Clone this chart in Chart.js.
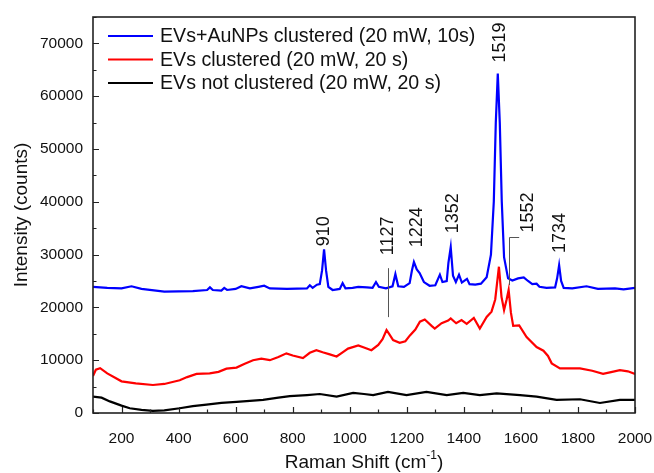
<!DOCTYPE html>
<html>
<head>
<meta charset="utf-8">
<script src="https://cdn.jsdelivr.net/npm/chart.js@4/dist/chart.umd.min.js"></script>
<style>
html,body{margin:0;padding:0;background:#fff;}
#wrap{width:654px;height:473px;}
</style>
</head>
<body>
<div id="wrap"><canvas id="c" width="654" height="473"></canvas></div>
<script>
// ---- data ----
const seriesLabels = ['EVs+AuNPs clustered (20 mW, 10s)', 'EVs clustered (20 mW, 20 s)', 'EVs not clustered (20 mW, 20 s)'];

const blueX = [100,150,200,235,270,350,450,500,510,520,550,560,570,600,620,650,680,700,720,780,850,860,870,885,895,903,910,917,925,940,965,975,985,1010,1030,1060,1080,1092,1102,1127,1150,1160,1170,1190,1210,1218,1225,1235,1245,1260,1280,1300,1316,1325,1340,1346,1354,1362,1372,1383,1393,1411,1420,1440,1460,1480,1495,1505,1512,1519,1526,1533,1541,1555,1570,1590,1610,1625,1640,1655,1665,1690,1720,1727,1734,1741,1750,1780,1830,1870,1930,1960,2000];
const blueY = [23900,23700,23600,24000,23500,23000,23100,23300,23800,23300,23200,23700,23300,23500,24000,23600,23900,24100,23600,23500,23600,24200,23700,24300,24400,27000,31000,27000,23900,23300,23500,24600,23600,23700,23900,23800,23700,24800,23900,23600,24000,26300,24000,23900,24600,27000,28600,27200,26500,24800,24100,24200,26200,24800,25000,28500,31400,26000,24800,26200,24700,25400,24400,24300,24500,25700,30000,40000,55000,64300,55000,40000,29500,25500,25100,25500,25700,25000,24400,24500,23900,23700,23800,25500,28000,25000,23700,23600,24000,23500,23600,23400,23700];

const redX = [100,110,125,150,200,250,310,350,404,430,463,509,540,568,603,630,661,690,720,750,778,800,836,860,883,905,930,954,975,994,1030,1050,1076,1100,1115,1129,1138,1152,1175,1195,1211,1230,1246,1263,1287,1298,1322,1345,1354,1373,1392,1410,1435,1456,1480,1497,1510,1523,1532,1541,1550,1557,1565,1573,1594,1620,1655,1679,1695,1708,1737,1807,1850,1888,1920,1947,1975,2000];
const redY = [7000,8200,8500,7500,6000,5600,5300,5500,6200,6800,7400,7500,7800,8400,8600,9300,10000,10300,10000,10600,11300,10900,10400,11400,11900,11500,11100,10700,11500,12200,12800,12400,11900,12900,14000,15700,15000,13800,13300,13600,14700,15800,17300,17700,16500,16000,17000,17500,17900,17000,17600,16900,18000,16000,18200,19200,21500,27700,22000,19500,21500,23300,19000,16500,16600,14400,12500,11800,10800,9400,8450,8450,8000,7400,7800,8100,7900,7400];

const blackX = [100,130,159,200,229,270,310,350,404,450,498,550,603,650,696,750,790,850,895,954,1012,1050,1082,1134,1199,1269,1340,1398,1456,1515,1597,1655,1725,1807,1877,1947,2000];
const blackY = [3100,2900,2200,1400,900,600,400,500,900,1300,1600,1900,2100,2300,2500,2900,3200,3400,3600,3100,3800,3600,3400,4000,3400,4000,3400,3800,3400,3700,3400,3100,2500,2600,1900,2500,2500];

const xTickValues = [200,400,600,800,1000,1200,1400,1600,1800,2000];
const yTickValues = [0,10000,20000,30000,40000,50000,60000,70000];

const peakLabelText = ['910','1127','1224','1352','1519','1552','1734'];
const peakLabelX = [910,1133,1235,1362,1526,1625,1737];
const peakLabelY = [31600,29900,31400,34050,66400,34200,30300];

// ---- helpers ----
const pts = (xs, ys) => xs.map((x, i) => ({x: x, y: ys[i]}));
const FONT = '"Liberation Sans", Arial, sans-serif';

const decor = {
  id: 'decor',
  afterDatasetsDraw(chart) {
    const ctx = chart.ctx;
    const a = chart.chartArea;
    const xs = chart.scales.x, ys = chart.scales.y;
    ctx.save();
    // frame
    ctx.strokeStyle = '#222';
    ctx.lineWidth = 1.6;
    ctx.strokeRect(a.left, a.top, a.right - a.left, a.bottom - a.top);
    // inward ticks
    ctx.lineWidth = 1.2;
    ctx.beginPath();
    for (let v = 100; v <= 2000; v += 100) {
      const px = Math.round(xs.getPixelForValue(v)) + 0.5;
      const len = (v % 200 === 0) ? 6 : 3.5;
      ctx.moveTo(px, a.bottom);
      ctx.lineTo(px, a.bottom - len);
    }
    for (let v = 0; v <= 75000; v += 5000) {
      const py = Math.round(ys.getPixelForValue(v)) + 0.5;
      const len = (v % 10000 === 0) ? 6 : 3.5;
      ctx.moveTo(a.left, py);
      ctx.lineTo(a.left + len, py);
    }
    ctx.stroke();

    // leader lines
    ctx.strokeStyle = '#555';
    ctx.lineWidth = 1;
    ctx.beginPath();
    const lx = Math.round(xs.getPixelForValue(1133)) + 0.5;
    ctx.moveTo(lx, ys.getPixelForValue(27430));
    ctx.lineTo(lx, ys.getPixelForValue(18160));
    const bx = Math.round(xs.getPixelForValue(1558)) + 0.5;
    const by = Math.round(ys.getPixelForValue(33300)) + 0.5;
    ctx.moveTo(bx, ys.getPixelForValue(24200));
    ctx.lineTo(bx, by);
    ctx.lineTo(xs.getPixelForValue(1594), by);
    ctx.stroke();

    // peak labels (rotated)
    ctx.fillStyle = '#111';
    ctx.font = '18px ' + FONT;
    ctx.textAlign = 'left';
    ctx.textBaseline = 'middle';
    peakLabelText.forEach((t, i) => {
      ctx.save();
      ctx.translate(xs.getPixelForValue(peakLabelX[i]), ys.getPixelForValue(peakLabelY[i]));
      ctx.rotate(-Math.PI / 2);
      ctx.fillText(t, 0, 0);
      ctx.restore();
    });

    // legend
    ctx.font = '19.6px ' + FONT;
    ctx.textBaseline = 'middle';
    chart.data.datasets.forEach((ds, i) => {
      const y = a.top + 19 + i * 23.5;
      ctx.strokeStyle = ds.borderColor;
      ctx.lineWidth = 2;
      ctx.beginPath();
      ctx.moveTo(a.left + 15, y);
      ctx.lineTo(a.left + 60, y);
      ctx.stroke();
      ctx.fillStyle = '#111';
      ctx.fillText(ds.label, a.left + 67, y + 1);
    });

    // axis titles
    ctx.font = '19px ' + FONT;
    ctx.fillStyle = '#111';
    ctx.textAlign = 'center';
    ctx.save();
    ctx.translate(22, (a.top + a.bottom) / 2);
    ctx.rotate(-Math.PI / 2);
    ctx.fillText('Intensity (counts)', 0, 0);
    ctx.restore();

    const p1 = 'Raman Shift (cm', p2 = '-1', p3 = ')';
    ctx.font = '19px ' + FONT;
    const w1 = ctx.measureText(p1).width, w3 = ctx.measureText(p3).width;
    ctx.font = '12px ' + FONT;
    const w2 = ctx.measureText(p2).width;
    const total = w1 + w2 + w3;
    let x0 = (a.left + a.right) / 2 - total / 2;
    const ty = 463;
    ctx.textAlign = 'left';
    ctx.font = '19px ' + FONT;
    ctx.fillText(p1, x0, ty);
    ctx.font = '12px ' + FONT;
    ctx.fillText(p2, x0 + w1, ty - 7);
    ctx.font = '19px ' + FONT;
    ctx.fillText(p3, x0 + w1 + w2, ty);
    ctx.restore();
  }
};

new Chart(document.getElementById('c'), {
  type: 'line',
  data: {
    datasets: [
      {label: seriesLabels[0], data: pts(blueX, blueY), borderColor: '#0000ff', borderWidth: 2.2, pointRadius: 0, tension: 0, fill: false},
      {label: seriesLabels[1], data: pts(redX, redY), borderColor: '#ff0000', borderWidth: 2.2, pointRadius: 0, tension: 0, fill: false},
      {label: seriesLabels[2], data: pts(blackX, blackY), borderColor: '#000000', borderWidth: 2.2, pointRadius: 0, tension: 0, fill: false}
    ]
  },
  options: {
    responsive: false,
    animation: false,
    devicePixelRatio: 1,
    layout: {padding: {top: 17, right: 19, left: 0, bottom: 0}},
    plugins: {legend: {display: false}, tooltip: {enabled: false}},
    scales: {
      x: {
        type: 'linear', min: 100, max: 2000,
        grid: {display: false, drawTicks: false},
        border: {display: false},
        afterBuildTicks: s => { s.ticks = xTickValues.map(v => ({value: v})); },
        afterFit: s => { s.height = 60; s.paddingLeft = 0; s.paddingRight = 0; },
        ticks: {font: {family: FONT, size: 15.5}, color: '#111', padding: 16, maxRotation: 0, autoSkip: false, callback: v => String(v)}
      },
      y: {
        type: 'linear', min: 0, max: 75000,
        grid: {display: false, drawTicks: false},
        border: {display: false},
        afterBuildTicks: s => { s.ticks = yTickValues.map(v => ({value: v})); },
        afterFit: s => { s.width = 93; s.paddingTop = 0; s.paddingBottom = 0; },
        ticks: {font: {family: FONT, size: 15.5}, color: '#111', padding: 10, callback: v => String(v)}
      }
    }
  },
  plugins: [decor]
});
</script>
</body>
</html>
